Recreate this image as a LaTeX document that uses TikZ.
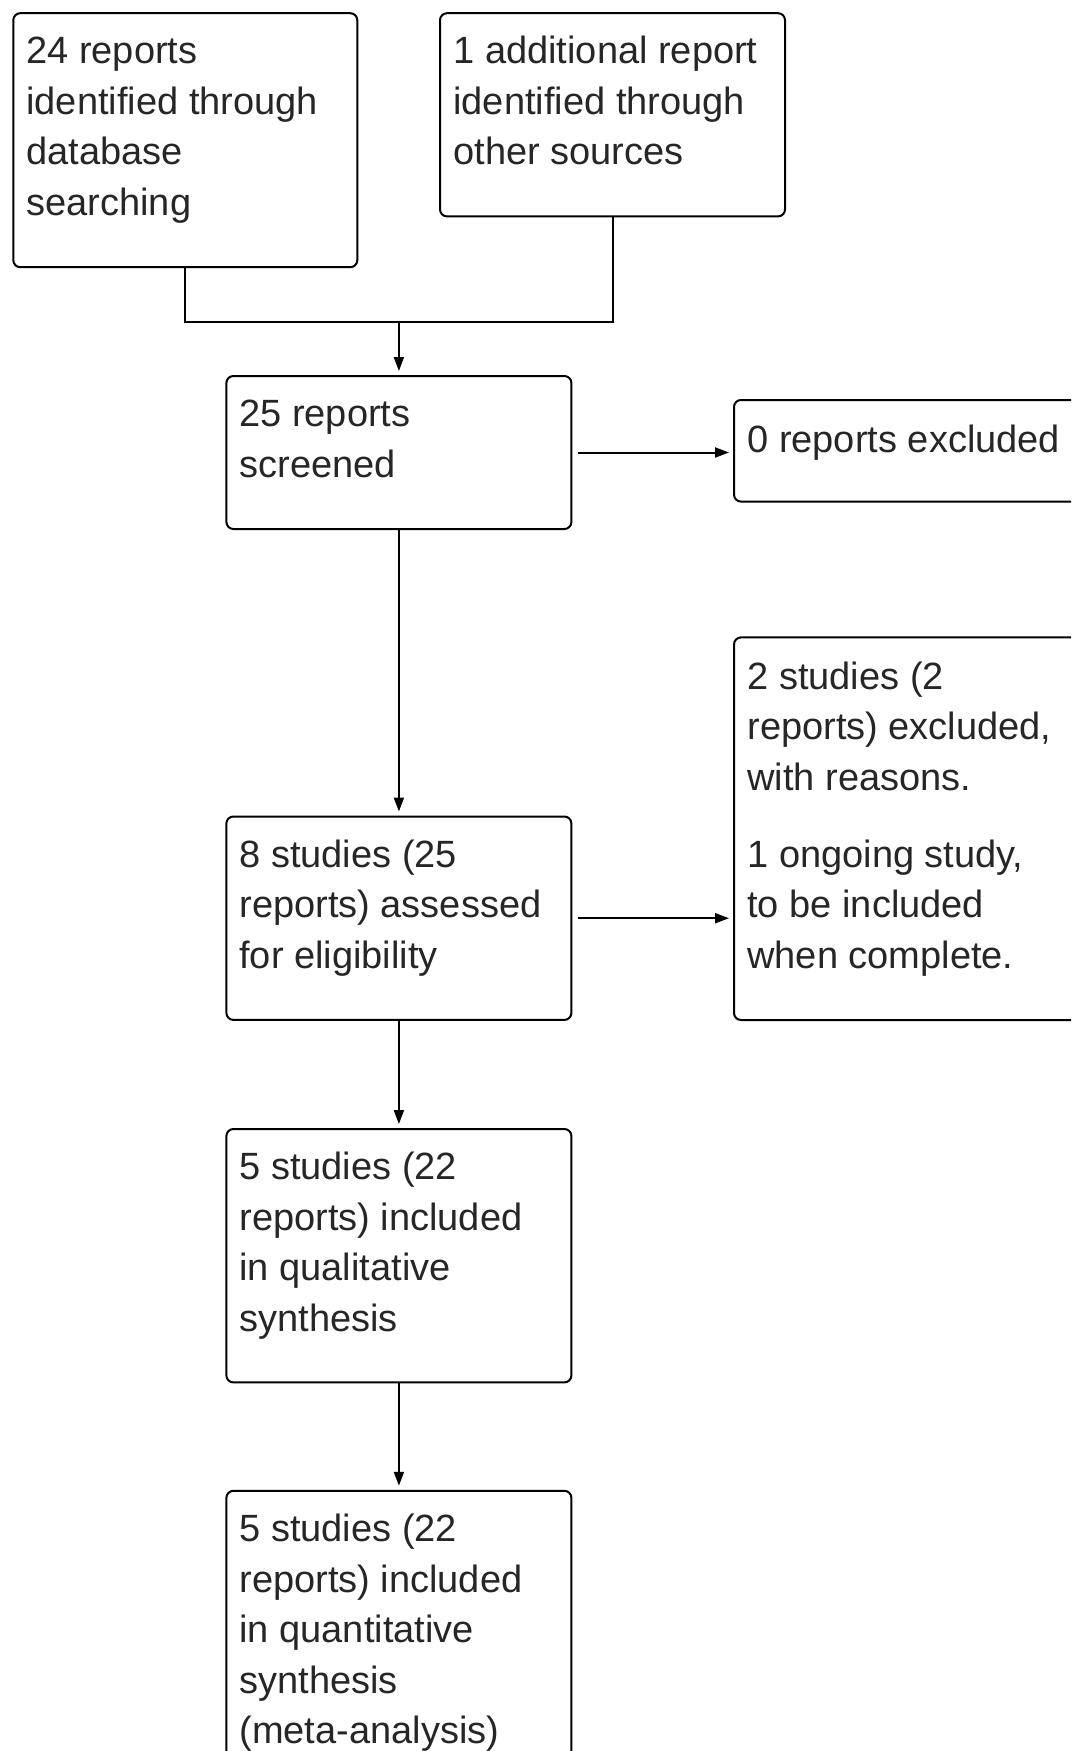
\documentclass[tikz,border=0pt]{standalone}
\usepackage{fontspec}
\setmainfont{Liberation Sans}
\usetikzlibrary{arrows.meta}
\tikzset{
  box/.style={draw=black, line width=1pt, rectangle, rounded corners=3.5pt, anchor=north west, inner sep=0pt},
  txt/.style={anchor=north west, align=left, inner sep=0pt, font=\fontsize{19}{25.3}\selectfont, text=black!85},
  conn/.style={line width=1pt, black},
  arr/.style={conn, -{Triangle[length=7pt,width=5pt]}},
}
\newcommand{\fl}{\rule{0pt}{14pt}}
\begin{document}
\begin{tikzpicture}[x=0.5pt,y=-0.5pt]
\useasboundingbox (0,0) rectangle (1071,1751);
\clip (0,0) rectangle (1071,1751);
% boxes
\node[box, minimum width=172pt, minimum height=127pt] (b1) at (12.3,12.2) {};
\node[box, minimum width=172.5pt, minimum height=101.6pt] (b2) at (439,12.2) {};
\node[box, minimum width=172.5pt, minimum height=76.5pt] (b3) at (225.4,375) {};
\node[box, minimum width=200pt, minimum height=50.8pt] (b4) at (733,399) {};
\node[box, minimum width=172.5pt, minimum height=101.7pt] (b5) at (225.4,815.5) {};
\node[box, minimum width=200pt, minimum height=191.3pt] (b6) at (733,636.4) {};
\node[box, minimum width=172.5pt, minimum height=126.7pt] (b7) at (225.4,1128) {};
\node[box, minimum width=172.5pt, minimum height=160pt] (b8) at (225.4,1489.8) {};
% texts
\node[txt] (t1) at (26,35) {\fl 24 reports\\identified through\\database\\searching};
\node[txt] (t2) at (453,35) {\fl 1 additional report\\identified through\\other sources};
\node[txt] (t3) at (239,398) {\fl 25 reports\\screened};
\node[txt] (t4) at (747,423.6) {\fl 0 reports excluded};
\node[txt] (t5) at (239,838.7) {\fl 8 studies (25\\reports) assessed\\for eligibility};
\node[txt] (t6a) at (747,660.8) {\fl 2 studies (2\\reports) excluded,\\with reasons.};
\node[txt] (t6b) at (747,838.7) {\fl 1 ongoing study,\\to be included\\when complete.};
\node[txt] (t7) at (239,1151) {\fl 5 studies (22\\reports) included\\in qualitative\\synthesis};
\node[txt] (t8) at (239,1513) {\fl 5 studies (22\\reports) included\\in quantitative\\synthesis\\(meta-analysis)};
% connectors
\coordinate (m) at (b3.north |- {0,321.5});
\draw[conn] (b1.south) -- (b1.south |- m) -- (b2.south |- m) -- (b2.south);
\draw[arr, shorten >=2pt] (m) -- (b3.north);
\draw[arr, shorten <=3pt, shorten >=2pt] (b3.east) -- (b3.east -| b4.west);
\draw[arr, shorten >=2pt] (b3.south) -- (b5.north);
\draw[arr, shorten <=3pt, shorten >=2pt] (b5.east) -- (b5.east -| b6.west);
\draw[arr, shorten >=2pt] (b5.south) -- (b7.north);
\draw[arr, shorten >=2pt] (b7.south) -- (b8.north);
\end{tikzpicture}
\end{document}
